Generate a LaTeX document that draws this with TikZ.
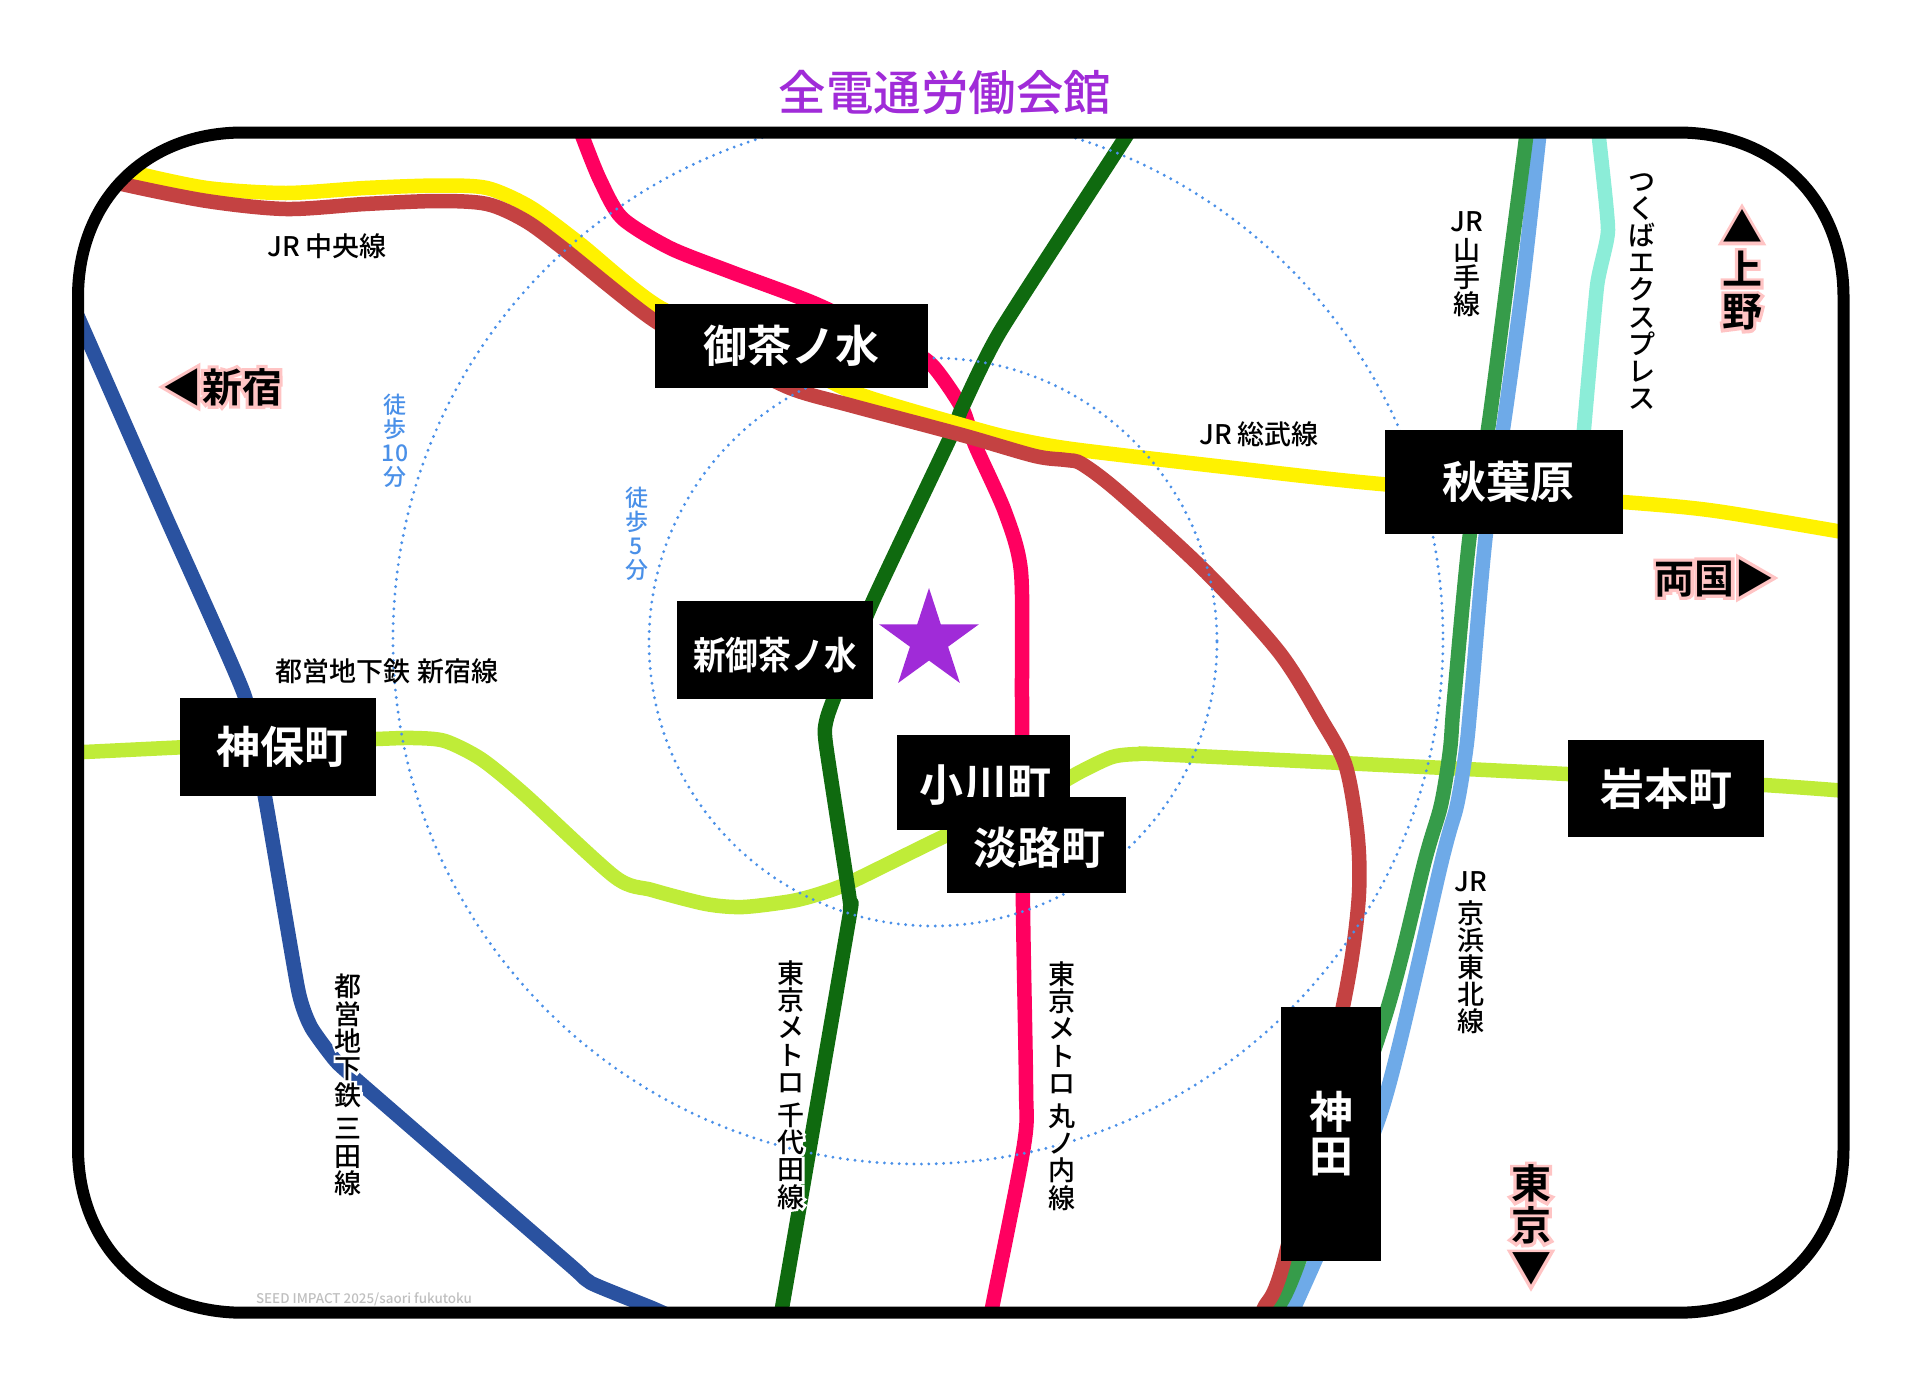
\documentclass[tikz,border=0pt]{standalone}
\usepackage{fontspec}
\usetikzlibrary{shapes.geometric}
\setmainfont{Noto Sans CJK JP Medium}[BoldFont={Noto Sans CJK JP Bold}]
\newfontfamily\halofont{Noto Sans CJK JP Bold}[FakeBold=16]
\newfontfamily\narrowfont{Noto Sans CJK JP Bold}[FakeStretch=0.86]
\definecolor{starpurple}{HTML}{A02BD8}
\definecolor{walkblue}{HTML}{4A90E8}
\definecolor{halopink}{HTML}{FFC4C4}
\definecolor{chuoyellow}{HTML}{FFF200}
\definecolor{chuored}{HTML}{C44242}
\definecolor{marupink}{HTML}{FF0060}
\definecolor{chiyodagreen}{HTML}{0F6A0F}
\definecolor{yamagreen}{HTML}{369C4A}
\definecolor{keihinblue}{HTML}{6EAAE8}
\definecolor{tsukubaaqua}{HTML}{8CEDD8}
\definecolor{shinjukulime}{HTML}{BFEC38}
\definecolor{mitablue}{HTML}{2A52A0}
\tikzset{
  rail/.style={line width=14.5pt,line join=round},
  walkring/.style={walkblue,line width=3.2pt,line cap=round,dash pattern=on 0pt off 7.4pt},
  station/.style={fill=black,text=white,inner sep=0pt,font=\fontsize{44}{46}\selectfont\bfseries,align=center},
  lowered/.style={text height=42pt,text depth=2.6pt},
  linelabel/.style={inner sep=0pt,align=center,font=\fontsize{27}{27.2}\selectfont},
  linelabelhalo/.style={linelabel,text=white,font=\fontsize{27}{27.2}\selectfont\halofont},
  walklabel/.style={inner sep=0pt,align=center,text=walkblue,font=\fontsize{23}{24}\selectfont},
  dirlabel/.style={inner sep=0pt,align=center,font=\fontsize{40}{42}\selectfont\bfseries},
  dirlabelhalo/.style={dirlabel,text=halopink,font=\fontsize{40}{42}\selectfont\halofont},
}
\newcommand{\framepath}{(78,297) .. controls (78,200) and (146,132.5) .. (243,132.5) -- (1678,132.5) .. controls (1775,132.5) and (1843.5,200) .. (1843.5,297) -- (1843.5,1148) .. controls (1843.5,1245) and (1775,1312.7) .. (1678,1312.7) -- (243,1312.7) .. controls (146,1312.7) and (78,1245) .. (78,1148) -- cycle}
\newcommand{\halolabel}[4]{%
  \node[#1halo] (#2halo) at (#3) {#4};
  \node[#1] (#2) at (#3) {#4};
}
\begin{document}
\begin{tikzpicture}[x=1pt,y=-1pt]
  \useasboundingbox (0,0) rectangle (1910,1385);

  \node[inner sep=0pt,text=starpurple,font=\fontsize{47.5}{50}\selectfont] (title) at (945,92) {全電通労働会館};

  \begin{scope}
    \clip \framepath;
    % lines
    \draw[rail,shinjukulime] plot[smooth,tension=0.45] coordinates {(60,753) (84,752) (230,745) (376,739) (414,738) (445,741) (481,759) (524,794) (615,877) (652,890) (706,904) (743,907) (792,901) (822,893) (853,881) (947,835) (1040,794) (1080,772) (1112,757) (1138,754) (1175,755) (1567,774) (1764,785) (1860,792)};
    \draw[rail,mitablue] plot[smooth,tension=0.3] coordinates {(70,299) (85,333) (165,515) (244,694) (265,797) (298,989) (311,1027) (335,1060) (359,1082) (570,1265) (591,1283) (652,1308) (690,1325)};
    \draw[rail,tsukubaaqua] plot[smooth,tension=0.3] coordinates {(1597,115) (1599,138) (1608,230) (1597,286) (1583,440)};
    \draw[rail,keihinblue] plot[smooth,tension=0.5] coordinates {(1541,115) (1539,138) (1522,290) (1503,429) (1486,533) (1471,700) (1466,750) (1457,805) (1442,860) (1382,1109) (1315,1261) (1294,1308) (1285,1330)};
    \draw[rail,yamagreen] plot[smooth,tension=0.5] coordinates {(1528,115) (1526,138) (1509,268) (1488,429) (1470,533) (1454,700) (1450,750) (1441,805) (1425,860) (1384,1020) (1299,1261) (1278,1308) (1269,1330)};
    \draw[rail,marupink] plot[smooth,tension=0.45] coordinates {(575,115) (583,138) (600,180) (622,218) (670,248) (731,272) (816,304) (900,345) (932,365) (962,408) (975,445) (1005,512) (1021,572) (1022,700) (1023,908) (1026,1087) (1024,1145) (992,1308) (988,1330)};
    \draw[rail,chiyodagreen] plot[smooth,tension=0.35] coordinates {(1137,115) (1125,138) (1001,330) (962,408) (950,438) (872,603) (834,698) (826,722) (826,745) (849,895) (850,908) (848,925) (782,1308) (777,1330)};
    \draw[rail,chuoyellow] plot[smooth,tension=0.45] coordinates {(100,161) (131,172) (207,188) (286,193) (365,188) (438,185.5) (487,188) (530,207) (579,243) (661,308) (770,350) (853,392) (962,425) (1011,438) (1072,449) (1225,467) (1381,484) (1623,502) (1716,511) (1860,535)};
    \draw[rail,chuored] plot[smooth,tension=0.5] coordinates {(90,174) (122,184) (207,201) (286,209) (365,204) (438,201) (487,204) (524,220) (560,246) (655,321) (725,355) (790,388) (853,406) (962,435) (1035,456) (1066,460) (1082,464) (1120,493) (1206,572) (1279,652) (1321,719) (1346,767) (1358,840) (1358,907) (1342,1011) (1284,1261) (1264,1308) (1254,1330)};
    % walking rings
    \draw[walkring] (933,642) circle (284);
    \draw[walkring] (918,639) circle (525);
  \end{scope}

  \node[star,star points=5,star point ratio=2.618,fill=starpurple,inner sep=0pt,minimum size=105pt] (hall) at (929,640.5) {};

  \draw[line width=12pt] \framepath;

  % stations
  \node[station,minimum width=273pt,minimum height=84pt] (ochanomizu) at (791.5,346) {御茶ノ水};
  \node[station,minimum width=196pt,minimum height=98pt,font=\fontsize{38}{40}\narrowfont,lowered] (shinochanomizu) at (775,650) {新御茶ノ水};
  \node[station,minimum width=196pt,minimum height=98pt] (jimbocho) at (278,747) {\hspace*{8pt}神保町};
  \node[station,minimum width=173pt,minimum height=95pt,lowered] (ogawamachi) at (983,782) {\hspace*{4pt}小川町};
  \node[station,minimum width=179pt,minimum height=96pt,lowered] (awajicho) at (1036.5,845) {\hspace*{6pt}淡路町};
  \node[station,minimum width=238pt,minimum height=104pt] (akihabara) at (1504,481.5) {\hspace*{8pt}秋葉原};
  \node[station,minimum width=196pt,minimum height=97pt] (iwamotocho) at (1666,788.5) {岩本町};
  \node[station,minimum width=100pt,minimum height=254pt] (kanda) at (1331,1134) {神\\[-2pt]田};

  % line names
  \node[linelabel] (chuolabel) at (327,246) {JR 中央線};
  \node[linelabel] (sobulabel) at (1259,434) {JR 総武線};
  \node[linelabel] (shinjukulabel) at (387,671) {都営地下鉄 新宿線};
  \node[linelabel] (yamalabel) at (1467,264) {JR\\[2pt]山\\手\\線};
  \node[linelabel] (keihinlabel) at (1471,953) {JR\\[4pt]京\\浜\\東\\北\\線};
  \node[linelabel] (tsukubalabel) at (1642,291.5) {つ\\く\\ば\\エ\\ク\\ス\\プ\\レ\\ス};
  \halolabel{linelabel}{mitalabel}{348,1085}{都\\営\\地\\下\\鉄\\[6pt]三\\田\\線}
  \halolabel{linelabel}{chiyodalabel}{791,1085}{東\\京\\メ\\ト\\ロ\\[6pt]千\\代\\田\\線}
  \halolabel{linelabel}{marulabel}{1062,1086}{東\\京\\メ\\ト\\ロ\\[6pt]丸\\ノ\\内\\線}

  % walking times
  \node[walklabel] (walkten) at (395,441) {徒\\歩\\10\\分};
  \node[walklabel] (walkfive) at (636.5,534) {徒\\歩\\5\\分};

  % directions
  \halolabel{dirlabel}{shinjuku}{222,387}{◀新宿}
  \halolabel{dirlabel}{ueno}{1742,270}{▲\\上\\野}
  \halolabel{dirlabel}{ryogoku}{1714.5,578}{両国▶}
  \halolabel{dirlabel}{tokyo}{1531,1225}{東\\京\\▼}

  \node[inner sep=0pt,text=black!25,font=\fontsize{13.4}{15}\selectfont] (credit) at (364,1299) {SEED IMPACT 2025/saori fukutoku};
\end{tikzpicture}
\end{document}
